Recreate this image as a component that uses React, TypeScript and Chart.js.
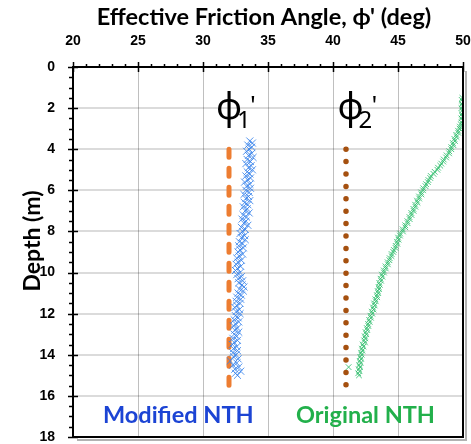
import React, { useEffect, useRef } from 'react';
import { Chart, registerables } from 'chart.js';

Chart.register(...registerables);

// Axis ticks
const phiTicks = [20, 25, 30, 35, 40, 45, 50];
const depthTicks = [0, 2, 4, 6, 8, 10, 12, 14, 16, 18];

// Modified NTH profile (depth in m, effective friction angle in deg)
const modifiedDepth = [
  3.6, 3.7, 3.8, 3.9, 4.0, 4.1, 4.2, 4.3, 4.4, 4.5, 4.6, 4.7, 4.8, 4.9, 5.0, 5.1, 5.2, 5.3, 5.4, 5.5,
  5.6, 5.7, 5.8, 5.9, 6.0, 6.1, 6.2, 6.3, 6.4, 6.5, 6.6, 6.7, 6.8, 6.9, 7.0, 7.1, 7.2, 7.3, 7.4, 7.5,
  7.6, 7.7, 7.8, 7.9, 8.0, 8.1, 8.2, 8.3, 8.4, 8.5, 8.6, 8.7, 8.8, 8.9, 9.0, 9.1, 9.2, 9.3, 9.4, 9.5,
  9.6, 9.7, 9.8, 9.9, 10.0, 10.1, 10.2, 10.3, 10.4, 10.5, 10.6, 10.7, 10.8, 10.9, 11.0, 11.1, 11.2, 11.3, 11.4, 11.5,
  11.6, 11.7, 11.8, 11.9, 12.0, 12.1, 12.2, 12.3, 12.4, 12.5, 12.6, 12.7, 12.8, 12.9, 13.0, 13.1, 13.2, 13.3, 13.4, 13.5,
  13.6, 13.7, 13.8, 13.9, 14.0, 14.1, 14.2, 14.3, 14.4, 14.5, 14.6, 14.7, 14.8, 14.9, 15.0,
];
const modifiedPhi = [
  33.6, 33.8, 33.45, 33.75, 33.55, 33.35, 33.75, 33.5, 33.85, 33.4, 33.65, 33.3, 33.7, 33.5, 33.8, 33.4, 33.6, 33.3, 33.65, 33.45,
  33.2, 33.6, 33.35, 33.65, 33.3, 33.55, 33.15, 33.5, 33.3, 33.6, 33.2, 33.45, 33.1, 33.4, 33.25, 33.55, 33.1, 33.35, 33.0, 33.3,
  33.15, 33.45, 32.95, 33.25, 33.05, 32.85, 33.2, 32.95, 33.25, 32.8, 33.05, 32.75, 33.1, 32.85, 32.7, 33.05, 32.8, 32.6, 32.95, 32.7,
  32.55, 32.9, 32.65, 32.5, 32.85, 32.6, 32.95, 32.7, 33.05, 32.75, 33.0, 33.15, 32.8, 33.1, 32.7, 32.95, 32.6, 32.9, 32.55, 32.85,
  32.6, 32.45, 32.8, 32.55, 32.85, 32.5, 32.7, 32.4, 32.75, 32.5, 32.35, 32.65, 32.45, 32.75, 32.4, 32.6, 32.3, 32.65, 32.4, 32.25,
  32.6, 32.35, 32.65, 32.3, 32.55, 32.35, 32.7, 32.1, 32.6, 32.3, 32.75, 32.45, 32.9, 32.5, 32.65,
];

// Original NTH profile
const originalDepth = [
  1.5, 1.6, 1.7, 1.8, 1.9, 2.0, 2.1, 2.2, 2.3, 2.4, 2.5, 2.6, 2.7, 2.8, 2.9, 3.0, 3.1, 3.2, 3.3, 3.4,
  3.5, 3.6, 3.7, 3.8, 3.9, 4.0, 4.1, 4.2, 4.3, 4.4, 4.5, 4.6, 4.7, 4.8, 4.9, 5.0, 5.1, 5.2, 5.3, 5.4,
  5.5, 5.6, 5.7, 5.8, 5.9, 6.0, 6.1, 6.2, 6.3, 6.4, 6.5, 6.6, 6.7, 6.8, 6.9, 7.0, 7.1, 7.2, 7.3, 7.4,
  7.5, 7.6, 7.7, 7.8, 7.9, 8.0, 8.1, 8.2, 8.3, 8.4, 8.5, 8.6, 8.7, 8.8, 8.9, 9.0, 9.1, 9.2, 9.3, 9.4,
  9.5, 9.6, 9.7, 9.8, 9.9, 10.0, 10.1, 10.2, 10.3, 10.4, 10.5, 10.6, 10.7, 10.8, 10.9, 11.0, 11.1, 11.2, 11.3, 11.4,
  11.5, 11.6, 11.7, 11.8, 11.9, 12.0, 12.1, 12.2, 12.3, 12.4, 12.5, 12.6, 12.7, 12.8, 12.9, 13.0, 13.1, 13.2, 13.3, 13.4,
  13.5, 13.6, 13.7, 13.8, 13.9, 14.0, 14.1, 14.2, 14.3, 14.4, 14.5, 14.6, 14.7, 14.8, 14.9, 15.0, 14.6,
];
const originalPhi = [
  49.95, 49.9, 50.0, 49.92, 49.97, 49.88, 49.96, 50.0, 49.9, 49.95, 49.87, 49.98, 49.9, 49.85, 49.76, 49.74, 49.62, 49.63, 49.48, 49.5,
  49.34, 49.38, 49.22, 49.26, 49.1, 49.1, 48.94, 48.93, 48.74, 48.7, 48.52, 48.48, 48.33, 48.25, 48.08, 48.03, 47.82, 47.73, 47.52, 47.48,
  47.34, 47.3, 47.16, 47.12, 46.95, 46.93, 46.78, 46.8, 46.62, 46.63, 46.46, 46.5, 46.32, 46.34, 46.18, 46.2, 46.02, 46.04, 45.88, 45.9,
  45.72, 45.74, 45.56, 45.56, 45.36, 45.38, 45.16, 45.15, 45.01, 45.04, 44.92, 44.95, 44.82, 44.81, 44.68, 44.64, 44.51, 44.5, 44.36, 44.34,
  44.21, 44.22, 44.04, 44.06, 43.91, 43.92, 43.76, 43.8, 43.66, 43.7, 43.56, 43.6, 43.51, 43.54, 43.44, 43.48, 43.38, 43.4, 43.26, 43.29,
  43.16, 43.2, 43.08, 43.12, 42.98, 43.02, 42.88, 42.92, 42.78, 42.82, 42.7, 42.72, 42.6, 42.64, 42.51, 42.56, 42.44, 42.48, 42.4, 42.46,
  42.28, 42.34, 42.22, 42.26, 42.16, 42.2, 42.1, 42.16, 42.06, 42.12, 42.02, 42.08, 41.98, 42.04, 41.94, 42.0, 41.2,
];

// Reference friction angles drawn as vertical lines
const phi1Value = 32;
const phi1Depths = [4, 16];
const phi2Value = 41;
const phi2Depths = [4, 15.6];

const toPoints = (xs: number[], ys: number[]) => xs.map((x, i) => ({ x, y: ys[i] }));

// Frame, tick marks and in-plot text
const decorPlugin = {
  id: 'decor',
  afterDraw(chart: any) {
    const { ctx, chartArea: a, scales } = chart;
    const xs = scales.x;
    const ys = scales.y;
    ctx.save();

    // drop shadow of the plot frame
    ctx.strokeStyle = 'rgba(0,0,0,0.3)';
    ctx.lineWidth = 2;
    ctx.beginPath();
    ctx.moveTo(a.right + 3, a.top + 4);
    ctx.lineTo(a.right + 3, a.bottom + 3);
    ctx.lineTo(a.left + 4, a.bottom + 3);
    ctx.stroke();

    // plot frame
    ctx.strokeStyle = '#000';
    ctx.lineWidth = 2;
    ctx.strokeRect(a.left, a.top, a.right - a.left, a.bottom - a.top);

    // x tick marks (top axis)
    ctx.lineWidth = 1.5;
    ctx.beginPath();
    for (let v = phiTicks[0]; v <= phiTicks[phiTicks.length - 1]; v += 1) {
      const px = Math.round(xs.getPixelForValue(v)) + 0.5;
      if (phiTicks.includes(v)) {
        ctx.moveTo(px, a.top - 5);
        ctx.lineTo(px, a.top + 5);
      } else {
        ctx.moveTo(px, a.top - 3);
        ctx.lineTo(px, a.top);
      }
    }
    // y tick marks (left axis)
    for (let v = depthTicks[0]; v <= depthTicks[depthTicks.length - 1]; v += 0.5) {
      const py = Math.round(ys.getPixelForValue(v)) + 0.5;
      if (depthTicks.includes(v)) {
        ctx.moveTo(a.left - 5, py);
        ctx.lineTo(a.left + 5, py);
      } else {
        ctx.moveTo(a.left - 4, py);
        ctx.lineTo(a.left, py);
      }
    }
    ctx.stroke();

    // axis titles
    ctx.fillStyle = '#000';
    ctx.textAlign = 'center';
    ctx.textBaseline = 'alphabetic';
    ctx.font = 'bold 23.5px Lato, "Open Sans", sans-serif';
    ctx.fillText("Effective Friction Angle, \u03D5' (deg)", 264, 25);
    ctx.save();
    ctx.translate(40, 241);
    ctx.rotate(-Math.PI / 2);
    ctx.font = 'bold 23px Lato, "Open Sans", sans-serif';
    ctx.fillText('Depth (m)', 0, 0);
    ctx.restore();

    // friction angle labels
    const phiLabel = (sub: string, xv: number, dv: number) => {
      const px = xs.getPixelForValue(xv);
      const py = ys.getPixelForValue(dv);
      ctx.textAlign = 'left';
      ctx.fillStyle = '#000';
      ctx.font = '36px "Noto Sans", "DejaVu Sans", sans-serif';
      ctx.fillText('\u03D5', px, py);
      ctx.font = '24px "Noto Sans", "DejaVu Sans", sans-serif';
      ctx.fillText(sub, px + 21, py + 9);
      ctx.font = '26px "Noto Sans", "DejaVu Sans", sans-serif';
      ctx.fillText("'", px + 34, py - 5);
    };
    phiLabel('1', 31.0, 2.55);
    phiLabel('2', 40.35, 2.55);

    // method labels
    ctx.textAlign = 'center';
    ctx.font = 'bold 23.5px Lato, "Open Sans", sans-serif';
    ctx.fillStyle = '#1c44d4';
    ctx.fillText('Modified NTH', xs.getPixelForValue(28.1), ys.getPixelForValue(17.3));
    ctx.fillStyle = '#22b04b';
    ctx.fillText('Original NTH', xs.getPixelForValue(42.5), ys.getPixelForValue(17.3));

    ctx.restore();
  },
};

// keep the plot box fixed regardless of tick label overhang
const noOverhang = (scale: any) => {
  scale.paddingLeft = 0;
  scale.paddingRight = 0;
  scale.paddingTop = 0;
  scale.paddingBottom = 0;
};

export default function App() {
  const canvasRef = useRef<HTMLCanvasElement | null>(null);

  useEffect(() => {
    const canvas = canvasRef.current;
    if (!canvas) return;
    const chart = new Chart(canvas, {
      type: 'scatter',
      data: {
        datasets: [
          {
            label: 'Modified NTH',
            data: toPoints(modifiedPhi, modifiedDepth),
            pointStyle: 'crossRot',
            pointRadius: 5,
            borderWidth: 1,
            borderColor: 'rgba(55,130,235,0.85)',
            backgroundColor: 'rgba(55,130,235,0.85)',
            showLine: false,
          },
          {
            label: 'Original NTH',
            data: toPoints(originalPhi, originalDepth),
            pointStyle: 'crossRot',
            pointRadius: 4,
            borderWidth: 1,
            borderColor: 'rgba(50,190,110,0.85)',
            backgroundColor: 'rgba(50,190,110,0.85)',
            showLine: false,
          },
          {
            label: "\u03D51'",
            data: phi1Depths.map((d) => ({ x: phi1Value, y: d })),
            showLine: true,
            pointRadius: 0,
            borderColor: '#ed7d31',
            borderWidth: 5,
            borderDash: [8, 11],
            borderCapStyle: 'round',
          },
          {
            label: "\u03D52'",
            data: phi2Depths.map((d) => ({ x: phi2Value, y: d })),
            showLine: true,
            pointRadius: 0,
            borderColor: '#a5500f',
            borderWidth: 5.5,
            borderDash: [0, 12.4],
            borderCapStyle: 'round',
          },
        ],
      },
      options: {
        animation: false,
        responsive: true,
        maintainAspectRatio: false,
        layout: { padding: { left: 0, right: 8, top: 0, bottom: 7 } },
        plugins: {
          legend: { display: false },
          tooltip: { enabled: false },
        },
        scales: {
          x: {
            type: 'linear',
            position: 'top',
            min: 20,
            max: 50,
            afterBuildTicks: (scale: any) => {
              scale.ticks = phiTicks.map((v) => ({ value: v }));
            },
            afterFit: (scale: any) => {
              scale.height = 67;
              noOverhang(scale);
            },
            ticks: {
              padding: 17,
              color: '#000',
              font: { family: '"Liberation Sans", Arial, sans-serif', size: 14, weight: 'bold' },
            },
            grid: {
              drawTicks: false,
              color: 'rgba(0,0,0,0.25)',
              lineWidth: 1,
            },
            border: { display: true, color: '#000', width: 2 },
          },
          y: {
            type: 'linear',
            reverse: true,
            min: 0,
            max: 18,
            afterBuildTicks: (scale: any) => {
              scale.ticks = depthTicks.map((v) => ({ value: v }));
            },
            afterFit: (scale: any) => {
              scale.width = 73;
              noOverhang(scale);
            },
            ticks: {
              padding: 18,
              color: '#000',
              font: { family: '"Liberation Sans", Arial, sans-serif', size: 14, weight: 'bold' },
            },
            grid: {
              drawTicks: false,
              color: 'rgba(0,0,0,0.14)',
              lineWidth: 2,
            },
            border: { display: true, color: '#000', width: 2 },
          },
        },
      },
      plugins: [decorPlugin],
    });
    return () => chart.destroy();
  }, []);

  return (
    <div style={{ position: 'fixed', left: 0, top: 0, width: 471, height: 444, background: '#fff' }}>
      <canvas ref={canvasRef} />
    </div>
  );
}
